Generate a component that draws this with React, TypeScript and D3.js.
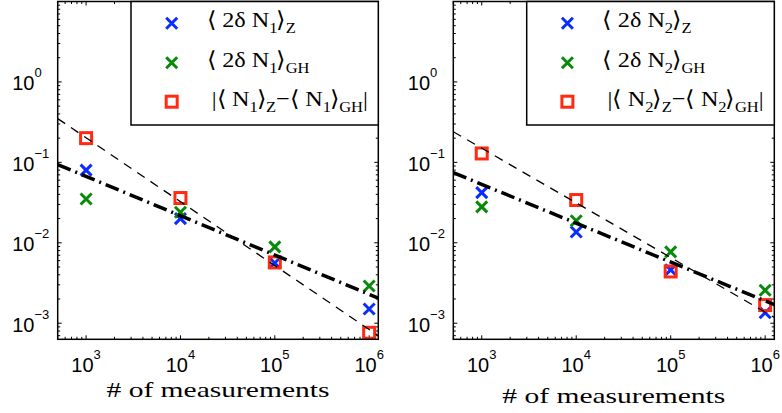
import React from "react";
import * as d3 from "d3";

// ---- data ----
const measurementCounts = [1e3, 1e4, 1e5, 1e6];

const n1Zeeman = [0.080, 0.020, 0.0056, 0.0015];
const n1GH = [0.035, 0.024, 0.0089, 0.0029];
const n1Diff = [0.20, 0.036, 0.0057, 0.00076];

const n2Zeeman = [0.042, 0.0136, 0.0046, 0.00135];
const n2GH = [0.028, 0.0188, 0.0077, 0.00257];
const n2Diff = [0.129, 0.034, 0.0044, 0.00168];

// fitted guide lines, endpoints [count, value]
const n1DashedFit: [number, number][] = [[500, 0.35], [1.25e6, 7.0e-4]];
const n1DashDotFit: [number, number][] = [[500, 0.094], [1.25e6, 0.00205]];
const n2DashedFit: [number, number][] = [[500, 0.24], [1.25e6, 0.00118]];
const n2DashDotFit: [number, number][] = [[500, 0.0745], [1.25e6, 0.0017]];

const xTickExponents = ["3", "4", "5", "6"];
const yTickExponents = ["0", "\u22121", "\u22122", "\u22123"];
const xLabel = "# of measurements";

const xDomain = [500, 1.25e6];
const yDomain = [Math.pow(10, -3.2), 10];

const BLUE = "#0a2cff";
const GREEN = "#078a07";
const RED = "#ff2a10";

type PanelSpec = {
  idx: string;
  left: number;
  right: number;
  legendLeft: number;
  labelBaseline: number;
  z: number[];
  gh: number[];
  diff: number[];
  dashed: [number, number][];
  dashDot: [number, number][];
};

const panels: PanelSpec[] = [
  { idx: "1", left: 57.7, right: 378.3, legendLeft: 131, labelBaseline: 397, z: n1Zeeman, gh: n1GH, diff: n1Diff, dashed: n1DashedFit, dashDot: n1DashDotFit },
  { idx: "2", left: 453.3, right: 774.3, legendLeft: 526.7, labelBaseline: 403, z: n2Zeeman, gh: n2GH, diff: n2Diff, dashed: n2DashedFit, dashDot: n2DashDotFit },
];

const TOP = 1.5;
const BOTTOM = 339.3;
const LEGEND_BOTTOM = 125;

const serif = "Liberation Serif, Times New Roman, serif";
const sans = "Liberation Sans, Arial, Helvetica, sans-serif";

function Cross({ x, y, color }: { x: number; y: number; color: string }) {
  const h = 5.5;
  return (
    <path
      d={`M${x - h},${y - h}L${x + h},${y + h}M${x - h},${y + h}L${x + h},${y - h}`}
      stroke={color}
      strokeWidth={3}
      fill="none"
    />
  );
}

function Square({ x, y, color }: { x: number; y: number; color: string }) {
  const s = 11;
  return <rect x={x - s / 2} y={y - s / 2} width={s} height={s} stroke={color} strokeWidth={3} fill="none" />;
}

function Panel({ p, clipId }: { p: PanelSpec; clipId: string }) {
  const x = d3.scaleLog().domain(xDomain).range([p.left, p.right]);
  const y = d3.scaleLog().domain(yDomain).range([BOTTOM, TOP]);

  const xMajor = [1e3, 1e4, 1e5, 1e6];
  const yMajor = [1, 0.1, 0.01, 0.001];
  const xMinor: number[] = [];
  for (let e = 2; e <= 6; e++) for (let k = 2; k <= 9; k++) {
    const v = k * Math.pow(10, e);
    if (v >= xDomain[0] && v <= xDomain[1]) xMinor.push(v);
  }
  const yMinor: number[] = [];
  for (let e = -4; e <= 0; e++) for (let k = 2; k <= 9; k++) {
    const v = k * Math.pow(10, e);
    if (v >= yDomain[0] && v <= yDomain[1]) yMinor.push(v);
  }
  const line = d3.line<[number, number]>().x((d) => x(d[0])).y((d) => y(d[1]));

  const MAJ = 4;
  const MIN = 2.5;
  const tickStroke = { stroke: "#000", strokeWidth: 1 };

  const sub = p.idx;
  const lx = p.legendLeft;
  const rows = [23.3, 62.7, 101.7];
  const tScale = 1.1;
  const FS = 22;
  const SFS = 15;
  const SD = 6;

  return (
    <g>
      <defs>
        <clipPath id={clipId}>
          <rect x={p.left} y={TOP} width={p.right - p.left} height={BOTTOM - TOP} />
        </clipPath>
      </defs>

      {/* ticks */}
      {xMajor.map((v, i) => (
        <g key={"xM" + i}>
          <line x1={x(v)} x2={x(v)} y1={BOTTOM} y2={BOTTOM - MAJ} {...tickStroke} />
          <line x1={x(v)} x2={x(v)} y1={TOP} y2={TOP + MAJ} {...tickStroke} />
        </g>
      ))}
      {xMinor.map((v, i) => (
        <g key={"xm" + i}>
          <line x1={x(v)} x2={x(v)} y1={BOTTOM} y2={BOTTOM - MIN} {...tickStroke} />
          <line x1={x(v)} x2={x(v)} y1={TOP} y2={TOP + MIN} {...tickStroke} />
        </g>
      ))}
      {yMajor.map((v, i) => (
        <g key={"yM" + i}>
          <line x1={p.left} x2={p.left + MAJ} y1={y(v)} y2={y(v)} {...tickStroke} />
          <line x1={p.right} x2={p.right - MAJ} y1={y(v)} y2={y(v)} {...tickStroke} />
        </g>
      ))}
      {yMinor.map((v, i) => (
        <g key={"ym" + i}>
          <line x1={p.left} x2={p.left + MIN} y1={y(v)} y2={y(v)} {...tickStroke} />
          <line x1={p.right} x2={p.right - MIN} y1={y(v)} y2={y(v)} {...tickStroke} />
        </g>
      ))}

      {/* tick labels */}
      {xMajor.map((v, i) => (
        <text key={"xl" + i} x={x(v)} y={371.5} textAnchor="middle" fontFamily={sans} fontSize={20} fill="#000">
          <tspan>10</tspan>
          <tspan fontSize={13} dy={-13}>{xTickExponents[i]}</tspan>
        </text>
      ))}
      {yMajor.map((v, i) => (
        <text key={"yl" + i} x={p.left - 45.5} y={y(v) + 8.3} fontFamily={sans} fontSize={20} fill="#000">
          <tspan>10</tspan>
          <tspan fontSize={13} dy={-13}>{yTickExponents[i]}</tspan>
        </text>
      ))}

      {/* axis label */}
      <text
        x={(p.left + p.right) / 2}
        y={p.labelBaseline}
        textAnchor="middle"
        fontFamily={serif}
        fontSize={22}
        textLength={223}
        lengthAdjust="spacingAndGlyphs"
        fill="#000"
      >
        {xLabel}
      </text>

      {/* markers */}
      <g>
        {measurementCounts.map((n, i) => (
          <Cross key={"z" + i} x={x(n)} y={y(p.z[i])} color={BLUE} />
        ))}
        {measurementCounts.map((n, i) => (
          <Cross key={"g" + i} x={x(n)} y={y(p.gh[i])} color={GREEN} />
        ))}
        {measurementCounts.map((n, i) => (
          <Square key={"d" + i} x={x(n)} y={y(p.diff[i])} color={RED} />
        ))}
      </g>

      {/* fit lines */}
      <g clipPath={`url(#${clipId})`}>
        <path d={line(p.dashed) || ""} stroke="#000" strokeWidth={1.3} strokeDasharray="9 7" fill="none" />
        <path d={line(p.dashDot) || ""} stroke="#000" strokeWidth={3.5} strokeDasharray="14 5 2 5" fill="none" />
      </g>

      {/* axes box */}
      <rect x={p.left} y={TOP} width={p.right - p.left} height={BOTTOM - TOP} fill="none" stroke="#000" strokeWidth={1.5} />

      {/* legend */}
      <rect x={lx} y={TOP} width={p.right - lx} height={LEGEND_BOTTOM - TOP} fill="#fff" stroke="#000" strokeWidth={1.5} />
      <Cross x={lx + 40.7} y={rows[0]} color={BLUE} />
      <Cross x={lx + 40.7} y={rows[1]} color={GREEN} />
      <Square x={lx + 40.7} y={rows[2]} color={RED} />

      <g transform={`translate(${lx + 75.7},${rows[0] + 4}) scale(${tScale},1)`}>
        <text fontFamily={serif} fontSize={FS} fill="#000">
          <tspan>{"\u27E8 2\u03B4 N"}</tspan>
          <tspan fontSize={SFS} dy={SD}>{sub}</tspan>
          <tspan dy={-SD} dx={-1}>{"\u27E9"}</tspan>
          <tspan fontSize={SFS} dy={SD}>Z</tspan>
        </text>
      </g>
      <g transform={`translate(${lx + 75.7},${rows[1] + 4}) scale(${tScale},1)`}>
        <text fontFamily={serif} fontSize={FS} fill="#000">
          <tspan>{"\u27E8 2\u03B4 N"}</tspan>
          <tspan fontSize={SFS} dy={SD}>{sub}</tspan>
          <tspan dy={-SD} dx={-1}>{"\u27E9"}</tspan>
          <tspan fontSize={SFS} dy={SD}>GH</tspan>
        </text>
      </g>
      <g transform={`translate(${lx + 80.7},${rows[2] + 4}) scale(${tScale},1)`}>
        <text fontFamily={serif} fontSize={FS} fill="#000">
          <tspan>{"|\u27E8 N"}</tspan>
          <tspan fontSize={SFS} dy={SD}>{sub}</tspan>
          <tspan dy={-SD} dx={-1}>{"\u27E9"}</tspan>
          <tspan fontSize={SFS} dy={SD}>Z</tspan>
          <tspan dy={-SD}>{"\u2212\u27E8 N"}</tspan>
          <tspan fontSize={SFS} dy={SD}>{sub}</tspan>
          <tspan dy={-SD} dx={-1}>{"\u27E9"}</tspan>
          <tspan fontSize={SFS} dy={SD}>GH</tspan>
          <tspan dy={-SD}>{"|"}</tspan>
        </text>
      </g>
    </g>
  );
}

export default function App() {
  return (
    <svg
      width={782}
      height={413}
      viewBox="0 0 782 413"
      style={{ position: "absolute", left: 0, top: 0, background: "#fff" }}
    >
      <rect x={0} y={0} width={782} height={413} fill="#fff" />
      {panels.map((p, i) => (
        <Panel key={i} p={p} clipId={"clip" + i} />
      ))}
    </svg>
  );
}
